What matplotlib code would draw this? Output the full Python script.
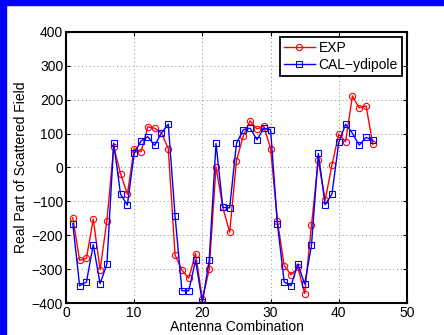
import numpy as np
import matplotlib.pyplot as plt
from matplotlib.patches import Rectangle

plt.rcParams['font.family'] = ['Liberation Sans', 'DejaVu Sans']

antenna = list(range(1, 46))
exp_vals = [-148, -274, -268, -152, -302, -157, 60, -18, -79, 56,
            46, 120, 116, 102, 56, -259, -303, -327, -254, -389,
            -301, 2, -118, -191, 20, 94, 138, 114, 122, 56,
            -157, -290, -317, -295, -372, -170, 21, -97, 7, 99,
            76, 211, 176, 182, 68]
cal_vals = [-166, -349, -338, -228, -343, -285, 72, -79, -111, 42,
            78, 91, 65, 102, 128, -144, -364, -364, -274, -398,
            -274, 71, -118, -119, 71, 112, 116, 82, 116, 112,
            -166, -338, -349, -285, -344, -229, 42, -110, -78, 74,
            128, 101, 66, 89, 80]

fig = plt.figure(figsize=(4.44, 3.35), dpi=100)
ax = fig.add_axes([0.1486, 0.0955, 0.768, 0.809])

ax.plot(antenna, exp_vals, color='red', lw=1, marker='o', markersize=4.5,
        markerfacecolor='none', markeredgewidth=0.8, label='EXP')
ax.plot(antenna, cal_vals, color='blue', lw=1, marker='s', markersize=3.8,
        markerfacecolor='none', markeredgewidth=0.8, label='CAL\u2212ydipole')

ax.set_xlim(0, 50)
ax.set_ylim(-400, 400)
ax.set_xticks(range(0, 51, 10))
ax.set_yticks(range(-400, 401, 100))
ax.yaxis.set_major_formatter(plt.FuncFormatter(lambda v, p: f'{int(v)}'.replace('-', '\u2212')))
ax.grid(True, linestyle=(0, (1, 3)), color='#888888', lw=0.7)
ax.tick_params(direction='in', top=True, right=True, length=3, labelsize=10, pad=2)
for s in ax.spines.values():
    s.set_linewidth(1.5)

ax.set_xlabel('Antenna Combination', fontsize=10, labelpad=0)
ax.set_ylabel('Real Part of Scattered Field', fontsize=10, labelpad=3)

leg = ax.legend(loc='upper right', fontsize=10, fancybox=False, framealpha=1,
                edgecolor='black', borderaxespad=0.35, handlelength=2.2,
                borderpad=0.3, labelspacing=0.2, handletextpad=0.3)
leg.get_frame().set_linewidth(1.3)

# blue frame around the picture (left and top edges)
fig.patches.append(Rectangle((0, 0), 6 / 444, 1, transform=fig.transFigure,
                             color='#0000ff', zorder=10))
fig.patches.append(Rectangle((0, 1 - 5 / 335), 1, 5 / 335, transform=fig.transFigure,
                             color='#0000ff', zorder=10))

fig.savefig('out.png', dpi=100)
